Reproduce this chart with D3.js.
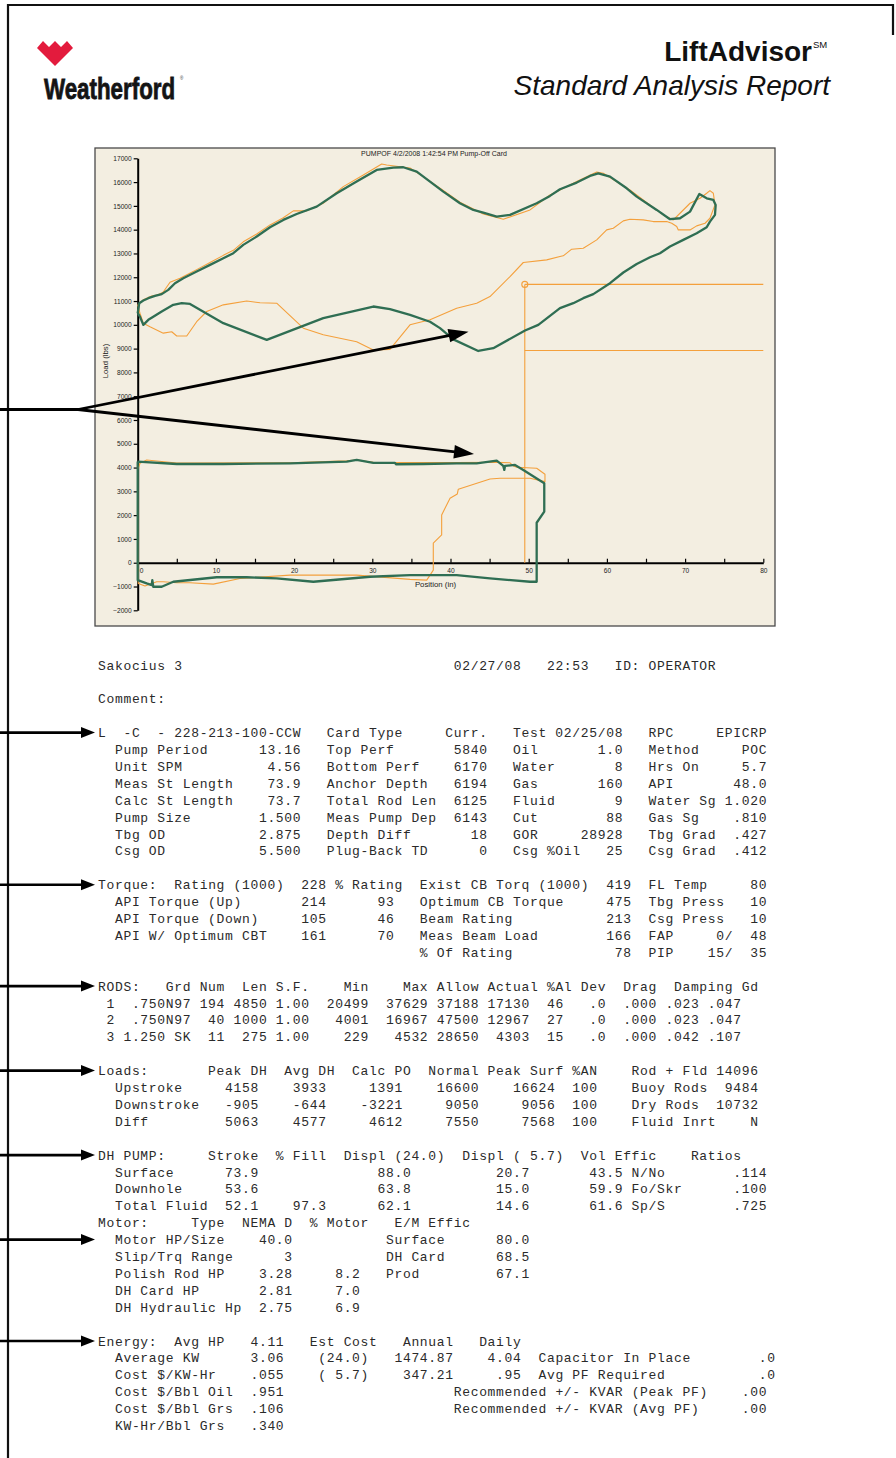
<!DOCTYPE html>
<html>
<head>
<meta charset="utf-8">
<script src="https://cdn.jsdelivr.net/npm/d3@7"></script>
<style>
  html, body { margin: 0; padding: 0; background: #fff; }
  svg { display: block; }
  .mono { font-family: "Courier New", "Liberation Mono", monospace; font-size: 13px; letter-spacing: 0.67px; fill: #2a2a2a; white-space: pre; }
  .sans { font-family: Arial, "Liberation Sans", sans-serif; }
</style>
</head>
<body>
<svg id="page" width="896" height="1458"></svg>
<script>
// ---------------- pump card data (position in, load lbs) ----------------
const surfaceCardMeasured = [
  [0.00,10490],[0.20,10910],[0.72,11020],[1.36,11120],[2.21,11215],[3.07,11290],[3.91,11470],[4.77,11750],
  [5.83,11960],[7.54,12240],[9.25,12520],[10.95,12800],[12.23,13010],[13.50,13360],[15.22,13710],[16.92,14100],
  [18.62,14410],[20.33,14660],[22.89,14970],[25.45,15530],[28.00,16020],[30.56,16510],[32.69,16610],[33.96,16624],
  [35.68,16440],[37.38,16020],[39.08,15600],[41.21,15110],[42.92,14830],[44.19,14720],[45.91,14550],[47.61,14620],
  [51.02,15110],[52.72,15420],[54.00,15700],[56.14,15980],[57.84,16260],[58.90,16370],[60.40,16230],[62.53,15740],
  [63.81,15390],[66.37,14830],[68.07,14440],[69.35,14480],[70.63,14760],[71.82,15500],[72.76,15320],[73.61,15250],
  [73.91,15040],[73.82,14620],[73.18,14340],[72.76,14100],[71.48,13850],[69.77,13570],[68.07,13290],[66.79,13010],
  [65.51,12840],[63.81,12560],[62.10,12200],[60.40,11750],[58.26,11290],[56.98,11120],[55.70,10910],[54.00,10700],
  [51.23,10000],[49.53,9760],[45.47,9020],[43.55,8900],[40.36,9390],[38.66,9860],[37.38,10130],[34.82,10420],
  [32.26,10660],[30.13,10770],[23.73,10280],[16.50,9370],[10.95,10070],[6.69,10880],[5.63,10910],[4.55,10840],
  [3.07,10560],[1.99,10340],[1.36,10210],[0.72,10000],[0.29,10340],[0.00,10490]
];
const surfaceCardReference = [
  [0.00,10840],[0.72,11050],[1.79,11215],[2.63,11260],[3.27,11380],[4.13,11790],[5.41,11960],[7.54,12320],
  [9.25,12620],[10.95,12920],[12.23,13130],[13.50,13490],[15.22,13820],[16.92,14200],[18.62,14500],[19.90,14790],
  [21.61,14790],[23.73,15110],[26.29,15810],[28.85,16300],[31.20,16760],[31.84,16720],[34.82,16590],[36.52,16230],
  [39.08,15650],[41.21,15150],[44.19,14660],[46.75,14440],[50.17,14830],[52.72,15460],[56.14,16020],[58.70,16420],
  [59.54,16370],[62.95,15670],[64.65,15250],[67.21,14620],[68.49,14410],[69.35,14690],[70.63,15110],[71.91,15320],
  [72.76,15530],[73.18,15640],[73.61,15530],[73.82,15040],[73.18,14480],[72.55,14270],[71.48,14160],[70.63,13990],
  [69.13,13990],[68.93,14130],[68.29,14270],[67.65,14340],[65.93,14340],[64.65,14410],[62.95,14440],[62.10,14370],
  [60.82,14060],[59.97,13990],[58.70,13570],[56.98,13220],[55.50,13180],[54.42,12900],[54.00,12870],[52.30,12730],
  [49.31,12620],[47.61,12030],[45.05,11190],[43.35,10910],[40.79,10700],[37.38,10210],[34.82,10000],[32.26,8970],
  [30.13,8940],[28.00,9290],[23.73,9580],[21.18,9860],[17.77,10910],[15.64,10930],[13.94,11000],[10.95,10840],
  [8.82,10560],[7.54,10130],[6.27,9530],[4.99,9530],[4.35,9710],[3.27,9650],[1.57,9920],[0.72,10070],
  [0.29,10490],[0.00,10840]
];
const downholeCardMeasured = [
  [0.00,4250],[4.99,4150],[10.95,4150],[19.48,4180],[26.73,4250],[28.00,4320],[30.13,4200],[32.90,4200],
  [33.03,4140],[36.52,4150],[40.79,4180],[43.35,4180],[45.91,4290],[46.75,4070],[46.88,3900],[46.97,4070],
  [48.25,4110],[49.31,3900],[51.99,3340],[51.99,2150],[51.02,1680],[51.02,-800],[50.17,-800],[45.05,-660],
  [40.79,-520],[34.82,-520],[29.71,-590],[22.46,-800],[17.77,-660],[13.94,-610],[10.10,-610],[4.55,-800],
  [3.07,-1010],[1.99,-1010],[1.87,-730],[1.79,-940],[1.15,-870],[0.00,-730],[0.00,4250]
];
const downholeCardReference = [
  [0.00,3900],[0.29,4180],[1.15,4320],[4.99,4190],[19.48,4200],[26.73,4280],[28.00,4320],[30.13,4220],
  [40.79,4210],[45.91,4220],[47.61,4200],[48.03,4070],[48.47,4010],[51.02,3970],[52.08,3720],[52.08,3410],
  [50.17,3550],[46.33,3550],[45.05,3520],[41.00,3090],[40.87,2890],[39.94,2710],[38.87,2010],[38.87,1170],
  [37.80,820],[37.80,-310],[36.96,-730],[34.82,-700],[28.00,-520],[19.48,-520],[13.08,-660],[9.67,-900],
  [6.69,-840],[4.99,-840],[3.27,-800],[2.43,-800],[0.93,-980],[0.08,-870],[0.00,3900]
];
// pump-off setpoint marker: position and the two load levels
const setpointPosition = 49.5;
const setpointLoads = [11700, 8920];

const xTicks = d3.range(0, 81, 5);
const yTicks = d3.range(-2000, 17001, 1000);
const chartTitle = "PUMPOF 4/2/2008 1:42:54 PM Pump-Off Card";

// ---------------- report text (column, text); negative column = right edge ----------------
const titleRow = [[0,"Sakocius 3"],[42,"02/27/08"],[53,"22:53"],[61,"ID: OPERATOR"]];
const commentRow = [[0,"Comment:"]];
const wellHeader = [[0,"L  -C  - 228-213-100-CCW"],[27,"Card Type"],[41,"Curr."],[49,"Test 02/25/08"],[65,"RPC"],[-79,"EPICRP"]];
const wellRows = [
  ["Pump Period","13.16","Top Perf","5840","Oil","1.0","Method","POC"],
  ["Unit SPM","4.56","Bottom Perf","6170","Water","8","Hrs On","5.7"],
  ["Meas St Length","73.9","Anchor Depth","6194","Gas","160","API","48.0"],
  ["Calc St Length","73.7","Total Rod Len","6125","Fluid","9","Water Sg","1.020"],
  ["Pump Size","1.500","Meas Pump Dep","6143","Cut","88","Gas Sg",".810"],
  ["Tbg OD","2.875","Depth Diff","18","GOR","28928","Tbg Grad",".427"],
  ["Csg OD","5.500","Plug-Back TD","0","Csg %Oil","25","Csg Grad",".412"]
];
const torqueRows = [
  [[0,"Torque:  Rating (1000)"],[-27,"228"],[28,"% Rating"],[38,"Exist CB Torq (1000)"],[-63,"419"],[65,"FL Temp"],[-79,"80"]],
  [[2,"API Torque (Up)"],[-27,"214"],[-35,"93"],[38,"Optimum CB Torque"],[-63,"475"],[65,"Tbg Press"],[-79,"10"]],
  [[2,"API Torque (Down)"],[-27,"105"],[-35,"46"],[38,"Beam Rating"],[-63,"213"],[65,"Csg Press"],[-79,"10"]],
  [[2,"API W/ Optimum CBT"],[-27,"161"],[-35,"70"],[38,"Meas Beam Load"],[-63,"166"],[65,"FAP"],[-75,"0/"],[-79,"48"]],
  [[38,"% Of Rating"],[-63,"78"],[65,"PIP"],[-75,"15/"],[-79,"35"]]
];
const rodRows = [
  [[0,"RODS:"],[8,"Grd"],[12,"Num"],[17,"Len"],[21,"S.F."],[29,"Min"],[36,"Max"],[40,"Allow"],[46,"Actual"],[53,"%Al"],[57,"Dev"],[62,"Drag"],[68,"Damping"],[76,"Gd"]],
  [[1,"1"],[4,".750N97"],[-15,"194"],[-20,"4850"],[21,"1.00"],[-32,"20499"],[-39,"37629"],[-45,"37188"],[-51,"17130"],[53,"46"],[-60,".0"],[62,".000"],[67,".023"],[72,".047"]],
  [[1,"2"],[4,".750N97"],[-15,"40"],[-20,"1000"],[21,"1.00"],[-32,"4001"],[-39,"16967"],[-45,"47500"],[-51,"12967"],[53,"27"],[-60,".0"],[62,".000"],[67,".023"],[72,".047"]],
  [[1,"3"],[3,"1.250 SK"],[-15,"11"],[-20,"275"],[21,"1.00"],[-32,"229"],[-39,"4532"],[-45,"28650"],[-51,"4303"],[53,"15"],[-60,".0"],[62,".000"],[67,".042"],[72,".107"]]
];
const loadRows = [
  [[0,"Loads:"],[13,"Peak DH"],[22,"Avg DH"],[30,"Calc PO"],[39,"Normal"],[46,"Peak Surf"],[56,"%AN"],[63,"Rod + Fld"],[-78,"14096"]],
  [[2,"Upstroke"],[-19,"4158"],[-27,"3933"],[-36,"1391"],[-45,"16600"],[-54,"16624"],[-59,"100"],[63,"Buoy Rods"],[-78,"9484"]],
  [[2,"Downstroke"],[-19,"-905"],[-27,"-644"],[-36,"-3221"],[-45,"9050"],[-54,"9056"],[-59,"100"],[63,"Dry Rods"],[-78,"10732"]],
  [[2,"Diff"],[-19,"5063"],[-27,"4577"],[-36,"4612"],[-45,"7550"],[-54,"7568"],[-59,"100"],[63,"Fluid Inrt"],[-78,"N"]]
];
const pumpRows = [
  [[0,"DH PUMP:"],[13,"Stroke"],[21,"% Fill"],[29,"Displ (24.0)"],[43,"Displ ( 5.7)"],[57,"Vol Effic"],[70,"Ratios"]],
  [[2,"Surface"],[-19,"73.9"],[-37,"88.0"],[-51,"20.7"],[-62,"43.5"],[63,"N/No"],[-79,".114"]],
  [[2,"Downhole"],[-19,"53.6"],[-37,"63.8"],[-51,"15.0"],[-62,"59.9"],[63,"Fo/Skr"],[-79,".100"]],
  [[2,"Total Fluid"],[-19,"52.1"],[-27,"97.3"],[-37,"62.1"],[-51,"14.6"],[-62,"61.6"],[63,"Sp/S"],[-79,".725"]]
];
const motorRows = [
  [[0,"Motor:"],[11,"Type"],[17,"NEMA D"],[25,"% Motor"],[35,"E/M Effic"]],
  [[2,"Motor HP/Size"],[-23,"40.0"],[34,"Surface"],[-51,"80.0"]],
  [[2,"Slip/Trq Range"],[-23,"3"],[34,"DH Card"],[-51,"68.5"]],
  [[2,"Polish Rod HP"],[-23,"3.28"],[-31,"8.2"],[34,"Prod"],[-51,"67.1"]],
  [[2,"DH Card HP"],[-23,"2.81"],[-31,"7.0"]],
  [[2,"DH Hydraulic Hp"],[-23,"2.75"],[-31,"6.9"]]
];
const energyRows = [
  [[0,"Energy:"],[9,"Avg HP"],[-22,"4.11"],[25,"Est Cost"],[36,"Annual"],[45,"Daily"]],
  [[2,"Average KW"],[-22,"3.06"],[26,"(24.0)"],[-42,"1474.87"],[-50,"4.04"],[52,"Capacitor In Place"],[-80,".0"]],
  [[2,"Cost $/KW-Hr"],[-22,".055"],[26,"( 5.7)"],[-42,"347.21"],[-50,".95"],[52,"Avg PF Required"],[-80,".0"]],
  [[2,"Cost $/Bbl Oil"],[-22,".951"],[42,"Recommended +/- KVAR (Peak PF)"],[-79,".00"]],
  [[2,"Cost $/Bbl Grs"],[-22,".106"],[42,"Recommended +/- KVAR (Avg PF)"],[-79,".00"]],
  [[2,"KW-Hr/Bbl Grs"],[-22,".340"]]
];
// report line index of the rows that carry a pointer arrow
const pointerLines = [4, 13, 19, 24, 29, 34, 40];

// ---------------- page ----------------
const svg = d3.select("#page");
const GREEN = "#2f6e53", ORANGE = "#f4a03c";

// page frame
svg.append("path").attr("d", "M8,1458 V5 H893 V35")
  .attr("fill", "none").attr("stroke", "#111").attr("stroke-width", 2.2);

// logo mark
svg.append("path")
  .attr("d", "M37,48 L43,41 L49,47 L55,41 L61,47 L67,41 L73,48 L55,66 Z")
  .attr("fill", "#e31b3d");
// condensed wordmark: bold face squeezed horizontally
svg.append("text").attr("class", "sans")
  .attr("transform", "translate(44,99) scale(0.745,1)")
  .attr("font-size", 30).attr("font-weight", "bold")
  .attr("fill", "#141414").attr("stroke", "#141414").attr("stroke-width", 0.8)
  .text("Weatherford");
svg.append("text").attr("class", "sans").attr("x", 180).attr("y", 80)
  .attr("font-size", 4.5).attr("fill", "#333").text("®");

// report title
svg.append("text").attr("class", "sans").attr("x", 812).attr("y", 61)
  .attr("text-anchor", "end").attr("font-size", 28).attr("font-weight", "bold").attr("fill", "#111")
  .text("LiftAdvisor");
svg.append("text").attr("class", "sans").attr("x", 813).attr("y", 48)
  .attr("font-size", 9.5).attr("fill", "#111").text("SM");
svg.append("text").attr("class", "sans").attr("x", 830).attr("y", 95)
  .attr("text-anchor", "end").attr("font-size", 28).attr("font-style", "italic").attr("fill", "#111")
  .text("Standard Analysis Report");

// ---------------- dynamometer card chart ----------------
const chart = svg.append("g");
chart.append("rect").attr("x", 95).attr("y", 148).attr("width", 680).attr("height", 478)
  .attr("fill", "#f3eee1").attr("stroke", "#4a4a4a").attr("stroke-width", 1.3);

const x = d3.scaleLinear().domain([0, 80]).range([137.7, 763.3]);
const y = d3.scaleLinear().domain([-2000, 17000]).range([610.3, 158.3]);

chart.append("text").attr("class", "sans").attr("x", 434).attr("y", 155.5)
  .attr("text-anchor", "middle").attr("font-size", 7).attr("fill", "#222").text(chartTitle);

const yAxis = chart.append("g").attr("transform", `translate(${x(0)},0)`)
  .call(d3.axisLeft(y).tickValues(yTicks).tickSize(4).tickSizeOuter(0).tickPadding(2).tickFormat(d3.format("d")));
const xAxis = chart.append("g").attr("transform", `translate(0,${y(0)})`)
  .call(d3.axisBottom(x).tickValues(xTicks).tickSize(-4).tickSizeOuter(0).tickPadding(6)
    .tickFormat(d => d % 10 === 0 ? d : ""));
[yAxis, xAxis].forEach(a => {
  a.select(".domain").attr("stroke", "#000").attr("stroke-width", 2);
  a.selectAll(".tick line").attr("stroke", "#000").attr("stroke-width", 1.2);
  a.selectAll(".tick text").attr("font-family", "Arial, 'Liberation Sans', sans-serif")
    .attr("font-size", 6.6).attr("fill", "#222");
});
xAxis.selectAll(".tick text").filter(d => d === 0).attr("dx", 3.5);

chart.append("text").attr("class", "sans").attr("x", 435.5).attr("y", 587)
  .attr("text-anchor", "middle").attr("font-size", 7.8).attr("fill", "#222").text("Position (in)");
chart.append("text").attr("class", "sans")
  .attr("transform", `translate(108,361) rotate(-90)`)
  .attr("text-anchor", "middle").attr("font-size", 7.8).attr("fill", "#222").text("Load (lbs)");

// pump-off setpoint lines
const sx = x(setpointPosition);
chart.append("line").attr("x1", sx).attr("x2", sx).attr("y1", y(setpointLoads[0])).attr("y2", y(0))
  .attr("stroke", ORANGE).attr("stroke-width", 1.1);
setpointLoads.forEach(v => {
  chart.append("line").attr("x1", sx).attr("x2", x(80)).attr("y1", y(v)).attr("y2", y(v))
    .attr("stroke", ORANGE).attr("stroke-width", 1.1);
});
chart.append("circle").attr("cx", sx).attr("cy", y(setpointLoads[0])).attr("r", 3)
  .attr("fill", "none").attr("stroke", ORANGE).attr("stroke-width", 1.1);

const line = d3.line().x(d => x(d[0])).y(d => y(d[1]));
[[surfaceCardReference, ORANGE, 1.1], [downholeCardReference, ORANGE, 1.1],
 [surfaceCardMeasured, GREEN, 2.3], [downholeCardMeasured, GREEN, 2.3]].forEach(([data, col, w]) => {
  chart.append("path").attr("d", line(data)).attr("fill", "none")
    .attr("stroke", col).attr("stroke-width", w).attr("stroke-linejoin", "round");
});

// ---------------- arrows ----------------
function arrow(x1, y1, x2, y2, len, half, width) {
  const a = Math.atan2(y2 - y1, x2 - x1);
  const bx = x2 - len * Math.cos(a), by = y2 - len * Math.sin(a);
  svg.append("line").attr("x1", x1).attr("y1", y1).attr("x2", bx + Math.cos(a)).attr("y2", by + Math.sin(a))
    .attr("stroke", "#000").attr("stroke-width", width);
  const px = -Math.sin(a) * half, py = Math.cos(a) * half;
  svg.append("path")
    .attr("d", `M${x2},${y2} L${bx + px},${by + py} L${bx - px},${by - py} Z`)
    .attr("fill", "#000");
}
svg.append("line").attr("x1", 0).attr("y1", 409.5).attr("x2", 79).attr("y2", 409.5)
  .attr("stroke", "#000").attr("stroke-width", 2.8);
arrow(78, 409.5, 468.5, 331.7, 20, 6.8, 2.8);
arrow(78, 409.5, 474, 454, 20, 6.8, 2.8);

// ---------------- report text ----------------
const X0 = 98, CW = 8.47;
const rowY = i => 665 + i * 16.9;
const text = svg.append("g");
function placeCells(lineIndex, cells) {
  cells.forEach(([c, t]) => {
    const start = c < 0 ? -c - t.length : c;
    text.append("text").attr("class", "mono")
      .attr("x", X0 + start * CW).attr("y", rowY(lineIndex) + 4.5).text(t);
  });
}
placeCells(0, titleRow);
placeCells(2, commentRow);
placeCells(4, wellHeader);
wellRows.forEach((r, i) => placeCells(5 + i, [[2, r[0]], [-24, r[1]], [27, r[2]], [-46, r[3]], [49, r[4]], [-62, r[5]], [65, r[6]], [-79, r[7]]]));
torqueRows.forEach((r, i) => placeCells(13 + i, r));
rodRows.forEach((r, i) => placeCells(19 + i, r));
loadRows.forEach((r, i) => placeCells(24 + i, r));
pumpRows.forEach((r, i) => placeCells(29 + i, r));
motorRows.forEach((r, i) => placeCells(33 + i, r));
energyRows.forEach((r, i) => placeCells(40 + i, r));

pointerLines.forEach(i => arrow(0, rowY(i), 95, rowY(i), 14, 5.5, 2.6));
</script>
</body>
</html>
